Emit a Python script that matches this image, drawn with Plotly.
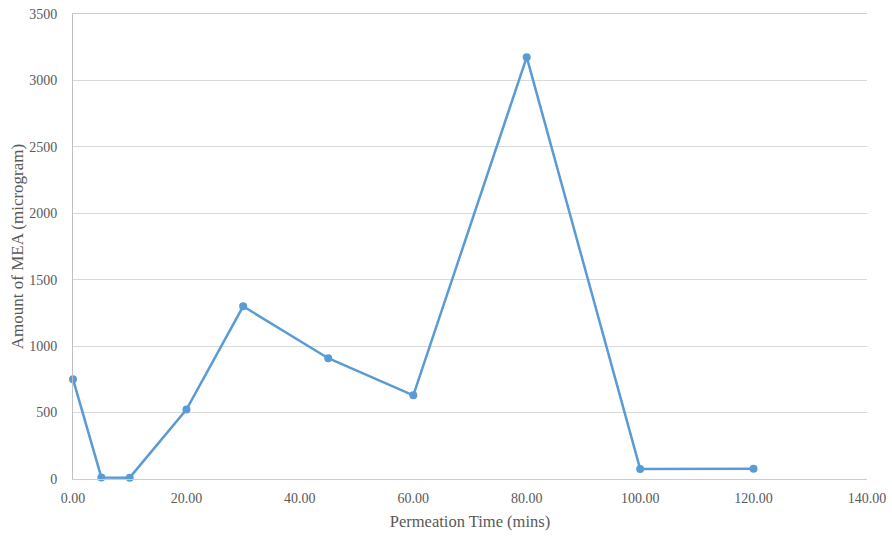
import plotly.graph_objects as go

time_mins = [0, 5, 10, 20, 30, 45, 60, 80, 100, 120]
mea_amount = [751, 12, 10, 523, 1300, 909, 630, 3175, 76, 78]
x_ticks = [0, 20, 40, 60, 80, 100, 120, 140]
x_tick_labels = ["0.00", "20.00", "40.00", "60.00", "80.00", "100.00", "120.00", "140.00"]

fig = go.Figure()
fig.add_trace(go.Scatter(
    x=time_mins, y=mea_amount, mode="lines+markers",
    line=dict(color="#5b9bd5", width=2.5),
    marker=dict(color="#5b9bd5", size=8),
    showlegend=False, cliponaxis=False,
))

fig.update_layout(
    width=892, height=537,
    margin=dict(l=73, r=25, t=14, b=58, autoexpand=False),
    paper_bgcolor="white", plot_bgcolor="white",
    font=dict(family="Liberation Serif", size=14, color="#595959"),
)
fig.update_xaxes(
    range=[0, 140], tickvals=x_ticks, ticktext=x_tick_labels,
    showgrid=False, showline=True, linecolor="#cccccc", linewidth=1, mirror=True,
    zeroline=False, ticks="outside", ticklen=6, tickcolor="rgba(0,0,0,0)",
    automargin=False, ticklabeloverflow="allow",
    title=dict(text="Permeation Time (mins)", font=dict(size=16.5), standoff=10),
)
fig.update_yaxes(
    range=[0, 3500], dtick=500,
    showgrid=True, gridcolor="#d9d9d9", gridwidth=1,
    showline=True, linecolor="#bfbfbf", linewidth=1,
    zeroline=False, ticks="outside", ticklen=12, tickcolor="rgba(0,0,0,0)",
    automargin=False, ticklabeloverflow="allow",
    title=dict(text="Amount of MEA (microgram)", font=dict(size=17), standoff=1),
)
fig.write_html(
    "out.html",
    config={"displayModeBar": False},
    post_script="document.body.style.margin='0';document.body.style.overflow='hidden';",
)
